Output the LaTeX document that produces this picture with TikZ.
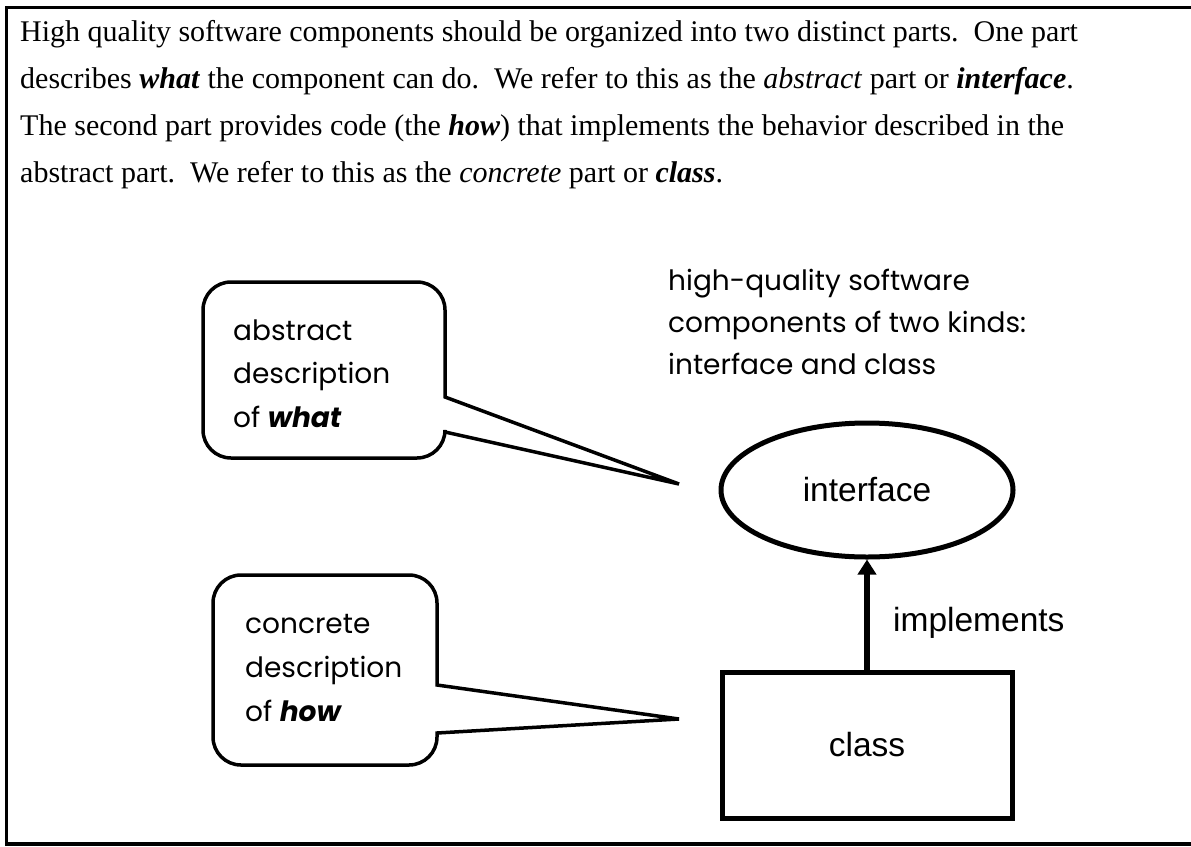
\documentclass[tikz,border=0pt]{standalone}
\usepackage{fontspec}
\setmainfont{Liberation Serif}
\newfontfamily\arialf{Liberation Sans}
\newfontfamily\comicf{Poppins}
\usetikzlibrary{shapes.geometric,arrows.meta}
\tikzset{
  body/.style={anchor=base west, inner sep=0pt, font=\fontsize{30}{36}\selectfont},
  comic/.style={anchor=base west, inner sep=0pt, font=\comicf\fontsize{28}{34}\selectfont},
  calloutline/.style={draw, line width=3.5pt, line join=miter, fill=white},
  arialtxt/.style={font=\arialf\fontsize{33.5}{40}\selectfont},
  iface/.style={draw, ellipse, line width=5pt, minimum width=292pt, minimum height=134pt, inner sep=0pt, arialtxt},
  klass/.style={draw, rectangle, line width=5pt, minimum width=290pt, minimum height=146pt, inner sep=0pt, arialtxt},
  implarrow/.style={line width=6pt, -{Triangle[width=18pt,length=15pt]}}
}
% #1 left, #2 right, #3 top, #4 bottom, #5 tail start y, #6 tip coordinate, #7 tail end y
\newcommand{\mycallout}[7]{%
  \draw[calloutline] ({(#1+#2)/2},#3) [rounded corners=28pt] -- (#2,#3)
    [sharp corners] -- (#2,#5) -- (#6) -- (#2,#7)
    [rounded corners=28pt] -- (#2,#4) -- (#1,#4) -- (#1,#3) -- cycle;}
\begin{document}
\begin{tikzpicture}[x=1pt,y=-1pt]
\useasboundingbox (0,0) rectangle (1191,846);
% frame
\draw[line width=3.5pt] (1191,7.5) -- (6.5,7.5) -- (6.5,844) -- (1191,844);
% body text
\node[body] (l1) at (20,41) {High quality software components should be organized into two distinct parts.\ \ One part};
\node[body] (l2) at (20,88) {describes \textbf{\textit{what}} the component can do.\ \ We refer to this as the \textit{abstract} part or \textbf{\textit{interface}}.};
\node[body] (l3) at (20,135) {The second part provides code (the \textbf{\textit{how}}) that implements the behavior described in the};
\node[body] (l4) at (20,182) {abstract part.\ \ We refer to this as the \textit{concrete} part or \textbf{\textit{class}}.};
% kinds text
\node[comic] (k1) at (668,290) {high-quality software};
\node[comic] (k2) at (668,332) {components of two kinds:};
\node[comic] (k3) at (668,374) {interface and class};
% interface and class
\node[iface] (int) at (867,490) {interface};
\node[klass] (cls) at (867,745) {class};
\draw[implarrow] (cls.north) -- (int.south);
\node[arialtxt, anchor=base west, inner sep=0pt] (impl) at (893,631) {implements};
% callouts
\coordinate (abstip) at (679,484);
\mycallout{203}{445}{282}{458}{397}{abstip}{432}
\node[comic] (a1) at (233,340) {abstract};
\node[comic] (a2) at (233,383) {description};
\node[comic] (a3) at (233,427) {of \textbf{\textit{what}}};
\coordinate (contip) at (679,719);
\mycallout{213}{437}{575}{765}{685}{contip}{733}
\node[comic] (c1) at (245,633) {concrete};
\node[comic] (c2) at (245,677) {description};
\node[comic] (c3) at (245,721) {of \textbf{\textit{how}}};
\end{tikzpicture}
\end{document}
